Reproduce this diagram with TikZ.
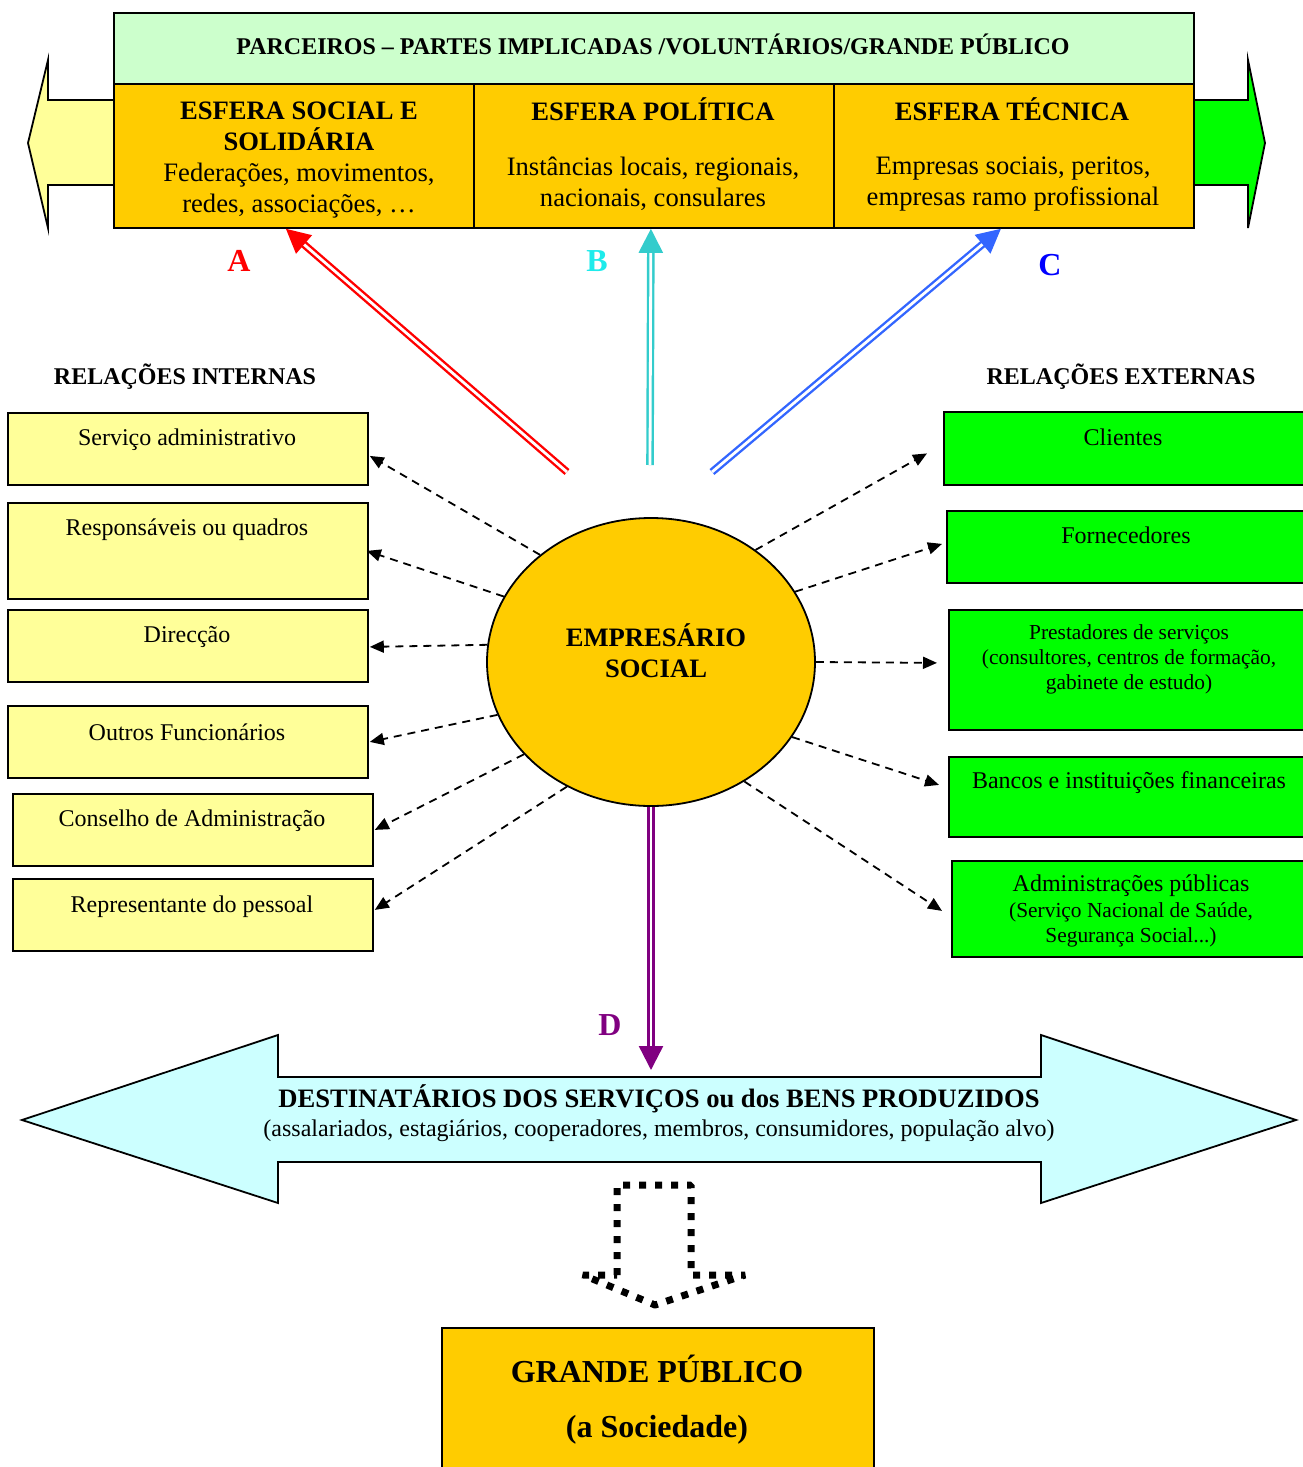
\documentclass[tikz,border=0pt]{standalone}
\usepackage{fontspec}
\setmainfont{Liberation Serif}
\usetikzlibrary{arrows.meta,shapes.geometric,calc}
\definecolor{hdrgreen}{HTML}{CCFFCC}
\definecolor{orng}{HTML}{FFCC00}
\definecolor{lyel}{HTML}{FFFF99}
\definecolor{grn}{HTML}{00FF00}
\definecolor{lcyan}{HTML}{CCFFFF}
\definecolor{arrA}{HTML}{FF0000}
\definecolor{arrB}{HTML}{33CCCC}
\definecolor{labB}{HTML}{1EEBEB}
\definecolor{arrC}{HTML}{3366FF}
\definecolor{labC}{HTML}{0000FF}
\definecolor{purp}{HTML}{800080}
\newcommand\myfs[2]{\fontsize{#1}{#2}\selectfont}
\tikzset{
  bx/.style={draw, line width=0.9pt, inner sep=0pt, anchor=north west},
  ybox/.style={bx, fill=lyel, minimum width=180pt, minimum height=36pt},
  gbox/.style={bx, fill=grn, minimum width=180pt, minimum height=36pt},
  obox/.style={bx, fill=orng, minimum width=180pt, minimum height=72pt},
  txt/.style={inner sep=0pt, align=center, font=\myfs{12}{15}},
  btxt/.style={txt, font=\bfseries\myfs{12}{15}},
  stxt/.style={txt, font=\myfs{10.7}{12.5}},
  big/.style={txt, font=\bfseries\myfs{13.3}{15.5}},
  mid/.style={txt, font=\myfs{13.3}{15.5}},
  lab/.style={inner sep=0pt, font=\bfseries\myfs{16}{18}},
  dsh/.style={dash pattern=on 4pt off 3pt, line width=0.9pt, -{Triangle[length=7pt,width=6pt]}},
  dbl/.style={double=white, double distance=1.4pt, line width=1.2pt, -{Triangle[length=12pt,width=12pt]}},
}
\begin{document}
\begin{tikzpicture}[x=0.5pt,y=-0.5pt]
\useasboundingbox (0,0) rectangle (1302,1467);
% side arrows of the top band
\draw[fill=lyel, line width=0.9pt] (113,100) -- (48,100) -- (48,60) -- (28,143) -- (48,228) -- (48,185) -- (113,185);
\draw[fill=grn, line width=0.9pt] (1193,100) -- (1248,100) -- (1248,60) -- (1265,143) -- (1248,228) -- (1248,185) -- (1193,185);
% top band
\node[bx, fill=hdrgreen, minimum width=540pt, minimum height=35.5pt] (hdr) at (113,12) {};
\node[btxt] (hdrt) at (653,44) {PARCEIROS – PARTES IMPLICADAS /VOLUNTÁRIOS/GRANDE PÚBLICO};
\node[obox] (e1) at (113,83) {};
\node[obox] (e2) at (473,83) {};
\node[obox] (e3) at (833,83) {};
\node[big] (e1t) at (299,126) {ESFERA SOCIAL E\\SOLIDÁRIA};
\node[mid] (e1b) at (299,191) {Federações, movimentos,\\redes, associações, …};
\node[big] (e2t) at (653,109) {ESFERA POLÍTICA};
\node[mid] (e2b) at (653,184) {Instâncias locais, regionais,\\nacionais, consulares};
\node[big] (e3t) at (1012,109) {ESFERA TÉCNICA};
\node[mid] (e3b) at (1013,184) {Empresas sociais, peritos,\\empresas ramo profissional};
% labels
\node[lab, text=arrA] (la) at (239,261) {A};
\node[lab, text=labB] (lb) at (597,261) {B};
\node[lab, text=labC] (lc) at (1050,265) {C};
\node[lab, text=purp] (ld) at (610,1025) {D};
\node[btxt] (ri) at (185,377) {RELAÇÕES INTERNAS};
\node[btxt] (rx) at (1121,377) {RELAÇÕES EXTERNAS};
% central ellipse
\node[ellipse, draw, fill=orng, line width=0.9pt, minimum width=164pt, minimum height=144pt, inner sep=0pt] (es) at (651,662) {};
\node[big] (est) at (656,651) {EMPRESÁRIO\\SOCIAL};
% left boxes
\node[ybox] (s1) at (7,412) {};
\node[txt] (s1t) at (187,440) {Serviço administrativo};
\node[ybox, minimum height=48pt] (s2) at (7,502) {};
\node[txt] (s2t) at (187,530) {Responsáveis ou quadros};
\node[ybox] (s3) at (7,609) {};
\node[txt] (s3t) at (187,637) {Direcção};
\node[ybox] (s4) at (7,705) {};
\node[txt] (s4t) at (187,732) {Outros Funcionários};
\node[ybox] (s5) at (12,793) {};
\node[txt] (s5t) at (192,821) {Conselho de Administração};
\node[ybox] (s6) at (12,878) {};
\node[txt] (s6t) at (192,907) {Representante do pessoal};
% right boxes
\node[gbox, minimum height=36.5pt] (c1) at (943,411) {};
\node[txt] (c1t) at (1123,437) {Clientes};
\node[gbox] (c2) at (946,510) {};
\node[txt] (c2t) at (1126,535) {Fornecedores};
\node[gbox, minimum height=60pt] (c3) at (948,609) {};
\node[stxt] (c3t) at (1129,659) {Prestadores de serviços\\(consultores, centros de formação,\\gabinete de estudo)};
\node[gbox, minimum height=40pt] (c4) at (948,756) {};
\node[txt] (c4t) at (1129,783) {Bancos e instituições financeiras};
\node[gbox, minimum height=48pt] (c5) at (951,860) {};
\node[txt] (c5t) at (1131,886) {Administrações públicas};
\node[stxt] (c5s) at (1131,924.5) {(Serviço Nacional de Saúde,\\Segurança Social...)};
% dashed connectors
\draw[dsh] (es.136) -- ([shift={(1,7)}]s1.east);
\draw[dsh] (es.156) -- ([shift={(-2,0)}]s2.east);
\draw[dsh] (es.174) -- ([shift={(1,1)}]s3.east);
\draw[dsh] (es.199) -- ([shift={(1,0)}]s4.east);
\draw[dsh] (es.216) -- ([shift={(1,0)}]s5.east);
\draw[dsh] (es.236) -- ([shift={(1,-5)}]s6.east);
\draw[dsh] (es.47) -- ([shift={(-16,5)}]c1.west);
\draw[dsh] (es.26) -- ([shift={(-4,-3)}]c2.west);
\draw[dsh] (es.0) -- ([shift={(-11,-7)}]c3.west);
\draw[dsh] (es.332) -- ([shift={(-9,-12)}]c4.west);
\draw[dsh] (es.308) -- ([shift={(-9,2)}]c5.west);
% big double arrow
\draw[fill=lcyan, line width=0.9pt] (22,1120) -- (278,1035) -- (278,1077) -- (1041,1077) -- (1041,1035) -- (1296,1120) -- (1041,1203) -- (1041,1162) -- (278,1162) -- (278,1203) -- cycle;
\node[big] (dest) at (659,1099) {DESTINATÁRIOS DOS SERVIÇOS ou dos BENS PRODUZIDOS};
\node[txt] (destb) at (659,1131) {(assalariados, estagiários, cooperadores, membros, consumidores, população alvo)};
% double arrows
\coordinate (a0) at (567,472);
\coordinate (b0) at (650,465);
\coordinate (c0) at (712,472);
\coordinate (dt) at (651,1070);
\draw[dbl, arrA] (a0) -- ([xshift=-4pt]e1.south);
\draw[dbl, arrB] (b0) -- ([xshift=-1.5pt]e2.south);
\draw[dbl, arrC] (c0) -- ([xshift=-6.5pt]e3.south);
\draw[dbl, purp] (es.south) -- (dt);
% dotted arrow
\draw[line width=3.5pt, line join=bevel, dash pattern=on 3.5pt off 4.5pt] (617,1275) -- (617,1185) -- (691,1185) -- (691,1275) -- (745,1275) -- (655,1305) -- (583,1275) -- cycle;
% bottom box
\node[bx, fill=orng, minimum width=216pt, minimum height=80pt] (gp) at (441,1327) {};
\node[lab, align=center, font=\bfseries\myfs{16}{27.5}] (gpt) at (657,1400) {GRANDE PÚBLICO\\(a Sociedade)};
\end{tikzpicture}
\end{document}
